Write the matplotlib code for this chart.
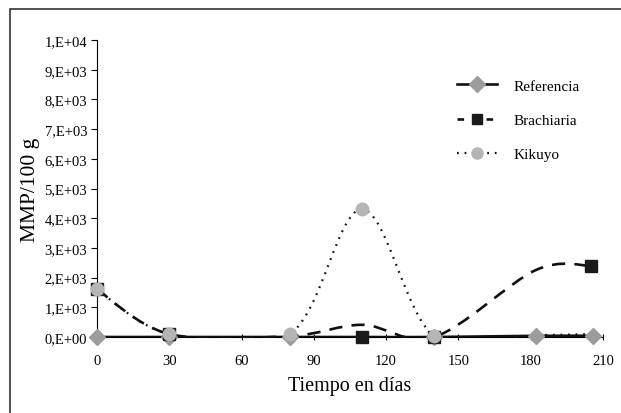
import matplotlib

matplotlib.use("Agg")

import matplotlib.pyplot as plt
import numpy as np
from matplotlib.lines import Line2D
from matplotlib.patches import PathPatch, Rectangle
from matplotlib.path import Path

plt.rcParams["font.family"] = ["Liberation Serif", "DejaVu Serif"]

# datos (MMP/100 g)
ref_dias = [0, 30, 80, 110, 140, 182, 206]
ref_vals = [0, 0, 0, 0, 0, 40, 40]
bra_dias = [0, 30, 80, 110, 140, 182, 205]
bra_vals = [1600, 100, 30, 410, 0, 2250, 2400]
kik_dias = [0, 30, 80, 110, 140, 182, 206]
kik_vals = [1600, 100, 100, 4300, 20, 60, 100]

# marcadores visibles en cada serie
ref_marcas = [0, 1, 2, 4, 5, 6]
bra_marcas = [0, 1, 4, 6]
kik_marcas = [0, 1, 2, 3, 4]
bra_extra_x = [110]
bra_extra_y = [0]

y_ticks = [0, 1000, 2000, 3000, 4000, 5000, 6000, 7000, 8000, 9000, 10000]
y_labels = ["0,E+00", "1,E+03", "2,E+03", "3,E+03", "4,E+03", "5,E+03",
            "6,E+03", "7,E+03", "8,E+03", "9,E+03", "1,E+04"]
x_ticks = [0, 30, 60, 90, 120, 150, 180, 210]


def suave(xs, ys):
    """Curva suavizada tipo Excel (Catmull-Rom como Bezier cúbica)."""
    p = np.column_stack([xs, ys]).astype(float)
    p = np.vstack([p[0], p, p[-1]])
    verts = [p[1]]
    codes = [Path.MOVETO]
    for i in range(1, len(p) - 2):
        c1 = p[i] + (p[i + 1] - p[i - 1]) / 6
        c2 = p[i + 1] - (p[i + 2] - p[i]) / 6
        verts += [c1, c2, p[i + 1]]
        codes += [Path.CURVE4] * 3
    return Path(verts, codes)


fig = plt.figure(figsize=(6.21, 4.14), dpi=100)
fig.patches.append(Rectangle((10 / 621, -0.1), 1.2, 1.1 - 10 / 414,
                             transform=fig.transFigure, fill=False,
                             edgecolor="#333333", linewidth=1.2))
ax = fig.add_axes([97 / 621, 1 - 338 / 414, 506 / 621, 297 / 414])

# recorte como el área de trazado de Excel (deja ver el grosor de la línea base)
zona = Rectangle((-5, -45), 220, 10100, transform=ax.transData)

for xs, ys, lw, ls, z in [
    (ref_dias, ref_vals, 1.9, "-", 2),
    (bra_dias, bra_vals, 1.9, (0, (5, 3.5)), 3),
    (kik_dias, kik_vals, 1.6, (0, (0.8, 2.6)), 4),
]:
    curva = PathPatch(suave(xs, ys), fill=False, color="#111111",
                      linewidth=lw, linestyle=ls, zorder=z)
    ax.add_patch(curva)
    curva.set_clip_path(zona)

ax.plot(ref_dias, ref_vals, linestyle="none", marker="D", markersize=8,
        color="#9c9c9c", markevery=ref_marcas, zorder=5, clip_on=False)
ax.plot(bra_dias, bra_vals, linestyle="none", marker="s", markersize=8,
        color="#1a1a1a", markevery=bra_marcas, zorder=6, clip_on=False)
ax.plot(bra_extra_x, bra_extra_y, linestyle="none", marker="s", markersize=8,
        color="#1a1a1a", zorder=6, clip_on=False)
ax.plot(kik_dias, kik_vals, linestyle="none", marker="o", markersize=9,
        color="#b5b5b5", markevery=kik_marcas, zorder=7, clip_on=False)

ax.set_xlim(0, 210)
ax.set_ylim(0, 10000)
ax.set_xticks(x_ticks)
ax.set_yticks(y_ticks)
ax.set_yticklabels(y_labels)
ax.spines["top"].set_visible(False)
ax.spines["right"].set_visible(False)
ax.spines["left"].set_linewidth(0.8)
ax.spines["bottom"].set_linewidth(0.8)
ax.tick_params(axis="y", direction="out", length=4, width=0.8, labelsize=10.5, pad=3)
ax.tick_params(axis="x", direction="inout", length=5, width=0.8, labelsize=10.5, pad=10)

ax.set_xlabel("Tiempo en días", fontsize=14.5, labelpad=6)
ax.set_ylabel("MMP/100 g", fontsize=15.5, labelpad=3)

handles = [
    Line2D([], [], color="#111111", linewidth=1.9, marker="D", markersize=8,
           markerfacecolor="#9c9c9c", markeredgecolor="#9c9c9c"),
    Line2D([], [], color="#111111", linewidth=1.9, linestyle=(0, (2.5, 3)), marker="s",
           markersize=7, markerfacecolor="#1a1a1a", markeredgecolor="#1a1a1a"),
    Line2D([], [], color="#111111", linewidth=1.6, linestyle=(0, (0.8, 2.6)), marker="o",
           markersize=8, markerfacecolor="#b5b5b5", markeredgecolor="#b5b5b5"),
]
ax.legend(handles, ["Referencia", "Brachiaria", "Kikuyo"], loc="upper left",
          bbox_to_anchor=(0.685, 0.915), frameon=False, fontsize=11,
          numpoints=1, handlelength=2.6, labelspacing=1.35, handletextpad=1.1)

fig.savefig("out.png", dpi=100)
